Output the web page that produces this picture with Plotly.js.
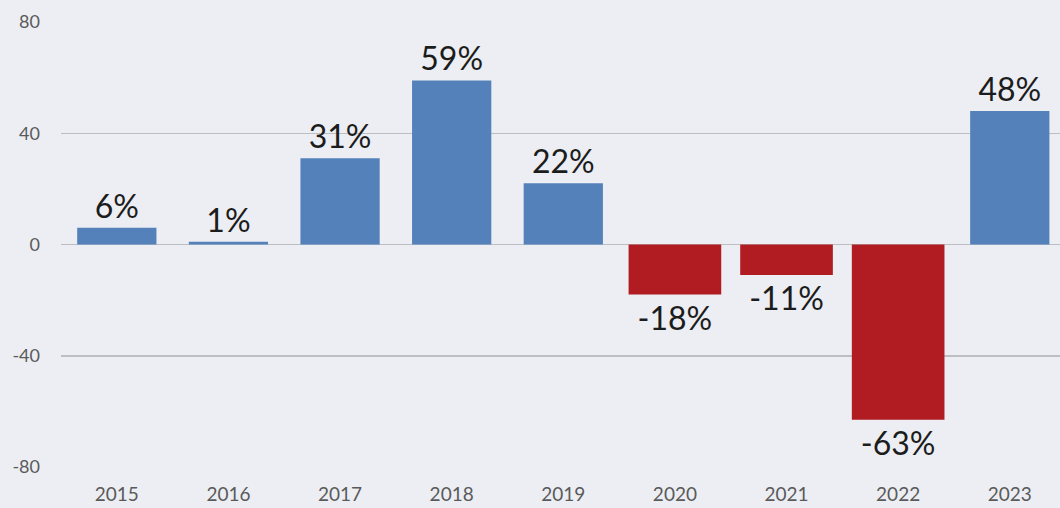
<!DOCTYPE html>
<html>
<head>
<meta charset="utf-8">
<script src="https://cdn.plot.ly/plotly-3.0.1.min.js"></script>
<style>html,body{margin:0;padding:0;background:#eceef3;}#chart{width:1060px;height:508px;}</style>
</head>
<body>
<div id="chart"></div>
<script>
var years = ['2015','2016','2017','2018','2019','2020','2021','2022','2023'];
var returns = [6, 1, 31, 59, 22, -18, -11, -63, 48];
var yTicks = [-80, -40, 0, 40, 80];

var colors = returns.map(function(v){ return v < 0 ? '#b01c22' : '#5581bb'; });
var widths = returns.map(function(v){ return v < 0 ? 0.83 : 0.71; });
var labels = returns.map(function(v){ return v + '%'; });

var trace = {
  type: 'bar',
  x: years,
  y: returns,
  marker: {color: colors, line: {width: 0}},
  width: widths,
  text: labels,
  textposition: 'outside',
  cliponaxis: false,
  textfont: {family: 'Lato, sans-serif', size: 32, color: '#1c1c1c'},
  hoverinfo: 'none'
};

var layout = {
  width: 1060, height: 508,
  margin: {l: 61, r: 0, t: 22, b: 41},
  paper_bgcolor: '#eceef3',
  plot_bgcolor: '#eceef3',
  showlegend: false,
  xaxis: {
    type: 'category',
    range: [-0.5, 8.45],
    showgrid: false, zeroline: false, showline: false,
    tickfont: {family: 'Lato, sans-serif', size: 19, color: '#5a5a5a'},
    ticklabelstandoff: 14
  },
  yaxis: {
    range: [-80, 80],
    tickvals: yTicks,
    ticktext: yTicks.map(String),
    showgrid: true, gridcolor: '#bdbec2', gridwidth: 1.5,
    zeroline: false, showline: false,
    tickfont: {family: 'Lato, sans-serif', size: 18, color: '#5a5a5a'},
    ticklabelstandoff: 20
  }
};

Plotly.newPlot('chart', [trace], layout, {displayModeBar: false, staticPlot: true});
</script>
</body>
</html>
